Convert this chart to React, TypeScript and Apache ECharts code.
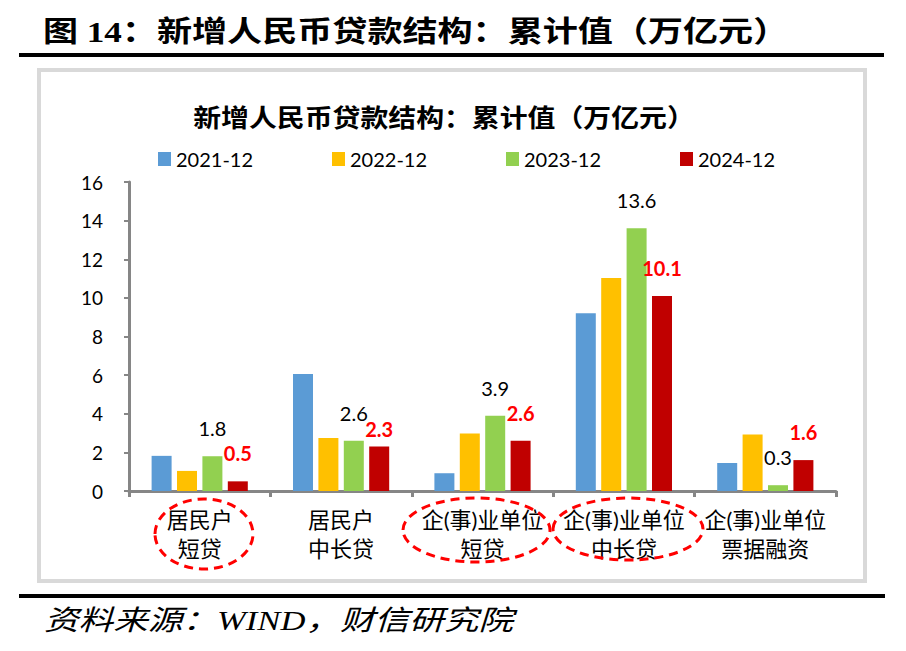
import React, { useEffect, useRef } from "react";
import * as echarts from "echarts";

const categories = [
  "居民户\n短贷",
  "居民户\n中长贷",
  "企(事)业单位\n短贷",
  "企(事)业单位\n中长贷",
  "企(事)业单位\n票据融资",
];
const seriesNames = ["2021-12", "2022-12", "2023-12", "2024-12"];
const values2021 = [1.82, 6.06, 0.92, 9.21, 1.45];
const values2022 = [1.04, 2.74, 2.98, 11.03, 2.93];
const values2023 = [1.8, 2.6, 3.9, 13.6, 0.3];
const values2024 = [0.5, 2.3, 2.6, 10.1, 1.6];
const yMin = 0;
const yMax = 16;
const yInterval = 2;

const heading = "图 14：新增人民币贷款结构：累计值（万亿元）";
const chartTitle = "新增人民币贷款结构：累计值（万亿元）";
const sourceText = "资料来源：WIND，财信研究院";

const colors = ["#5B9BD5", "#FFC000", "#92D050", "#C00000"];
const FONT = "Lato, 'Noto Sans CJK SC', sans-serif";

export default function App() {
  const ref = useRef<HTMLDivElement>(null);

  useEffect(() => {
    if (!ref.current) return;
    const chart = echarts.init(ref.current, undefined, { renderer: "svg" });

    const allValues = [values2021, values2022, values2023, values2024];
    const legendLefts = [158, 332, 506, 680];

    const series = seriesNames.map((name, si) => {
      const labelled = si >= 2;
      const isRed = si === 3;
      return {
        name,
        type: "bar",
        barWidth: 20,
        barGap: "27%",
        itemStyle: { color: colors[si] },
        data: allValues[si].map((v, i) =>
          isRed && i === 1 ? { value: v, label: { distance: 8 } } : v
        ),
        label: {
          show: labelled,
          position: "top",
          distance: 18,
          fontSize: 20,
          fontFamily: FONT,
          fontWeight: isRed ? "bold" : "normal",
          color: isRed ? "#FF0000" : "#000000",
          formatter: (p: any) => Number(p.value).toFixed(1),
        },
      };
    });

    const option: any = {
      animation: false,
      backgroundColor: "#ffffff",
      textStyle: { fontFamily: FONT },
      legend: seriesNames.map((name, i) => ({
        data: [name],
        left: legendLefts[i],
        top: 149,
        padding: 0,
        icon: "rect",
        itemWidth: 13,
        itemHeight: 14,
        textStyle: { fontSize: 20, fontFamily: FONT, color: "#000" },
        selectedMode: false,
      })),
      grid: { left: 129, right: 70, top: 182, bottom: 160, containLabel: false },
      xAxis: {
        type: "category",
        data: categories,
        axisLine: { lineStyle: { color: "#868686", width: 3 } },
        axisTick: { show: true, length: 6, lineStyle: { color: "#868686", width: 3 } },
        axisLabel: {
          interval: 0,
          fontSize: 22,
          lineHeight: 29,
          margin: 14,
          color: "#000",
          fontFamily: FONT,
        },
      },
      yAxis: {
        type: "value",
        min: yMin,
        max: yMax,
        interval: yInterval,
        axisLine: { show: true, lineStyle: { color: "#868686", width: 3 } },
        axisTick: { show: true, length: 5, lineStyle: { color: "#868686", width: 2 } },
        splitLine: { show: false },
        axisLabel: { fontSize: 19, margin: 26, color: "#000", fontFamily: FONT },
      },
      series,
      graphic: [
        {
          type: "text",
          x: 43,
          y: 32,
          scaleX: 1.21,
          style: {
            text: heading,
            font: "bold 29px 'Liberation Serif', 'Noto Sans CJK SC', serif",
            fill: "#000",
            textAlign: "left",
            textVerticalAlign: "middle",
          },
        },
        {
          type: "line",
          shape: { x1: 19, y1: 55, x2: 884, y2: 55 },
          style: { stroke: "#000", lineWidth: 4 },
        },
        {
          type: "rect",
          shape: { x: 39, y: 70, width: 826, height: 511 },
          style: { fill: "none", stroke: "#D9D9D9", lineWidth: 4 },
          z: -1,
        },
        {
          type: "text",
          x: 444,
          y: 116,
          scaleX: 1.115,
          style: {
            text: chartTitle,
            font: "bold 25px 'Noto Sans CJK SC', sans-serif",
            fill: "#000",
            textAlign: "center",
            textVerticalAlign: "middle",
          },
        },
        {
          type: "ellipse",
          shape: { cx: 204, cy: 534, rx: 49, ry: 35 },
          style: { fill: "none", stroke: "#FF0000", lineWidth: 3, lineDash: [9, 6] },
          z: 100,
        },
        {
          type: "ellipse",
          shape: { cx: 476.5, cy: 530, rx: 73.5, ry: 32 },
          style: { fill: "none", stroke: "#FF0000", lineWidth: 3, lineDash: [9, 6] },
          z: 100,
        },
        {
          type: "ellipse",
          shape: { cx: 628, cy: 529, rx: 75, ry: 31 },
          style: { fill: "none", stroke: "#FF0000", lineWidth: 3, lineDash: [9, 6] },
          z: 100,
        },
        {
          type: "line",
          shape: { x1: 19, y1: 596, x2: 885, y2: 596 },
          style: { stroke: "#000", lineWidth: 4 },
        },
        {
          type: "text",
          x: 44,
          y: 621,
          scaleX: 1.236,
          style: {
            text: sourceText,
            font: "italic 28px 'Liberation Serif', 'Noto Sans CJK SC', serif",
            fill: "#000",
            textAlign: "left",
            textVerticalAlign: "middle",
          },
        },
      ],
    };

    chart.setOption(option);
    return () => chart.dispose();
  }, []);

  return (
    <div
      ref={ref}
      style={{ position: "fixed", left: 0, top: 0, width: 906, height: 651, background: "#fff" }}
    />
  );
}
